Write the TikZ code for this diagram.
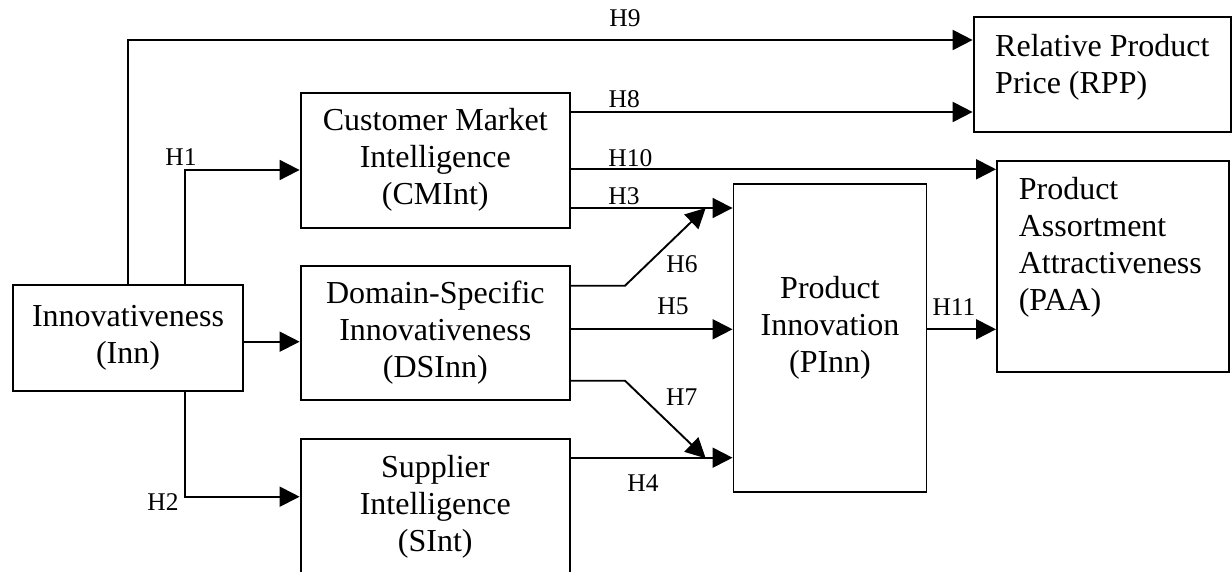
\documentclass[tikz,border=0pt]{standalone}
\usepackage{fontspec}
\setmainfont{Liberation Serif}
\usetikzlibrary{arrows.meta}
\newcommand\boxfont{\fontsize{32}{37}\selectfont}
\newcommand\hypfont{\fontsize{25.5}{30}\selectfont}
\begin{document}
\begin{tikzpicture}[x=1pt,y=-1pt,
  box/.style={draw, line width=1.9pt, inner sep=0pt, font=\boxfont, align=center},
  txt/.style={font=\boxfont, inner sep=0pt},
  hyp/.style={line width=1.9pt, -{Triangle[length=20pt,width=20pt]}},
  hlabel/.style={font=\hypfont, inner sep=0pt}]
\useasboundingbox (0,0) rectangle (1232,572);
\clip (0,0) rectangle (1232,572);

% constructs
\node[box, minimum width=230.5pt, minimum height=106pt] (inn) at (128,338) {Innovativeness\\(Inn)};
\node[box, minimum width=269.5pt, minimum height=135.3pt] (cmint) at (435.3,160.3) {Customer Market\\Intelligence\\(CMInt)};
\node[box, minimum width=269.5pt, minimum height=134.3pt] (dsinn) at (435.3,332.8) {Domain-Specific\\Innovativeness\\(DSInn)};
\node[box, minimum width=269.5pt, minimum height=136pt] (sint) at (435.3,507) {Supplier\\Intelligence\\(SInt)};
\node[box, minimum width=193pt, minimum height=308pt] (pinn) at (830,338.3) {};
\node[txt, align=center] (pinntext) at (830,327.4) {Product\\Innovation\\(PInn)};
\node[box, minimum width=257.2pt, minimum height=115.3pt] (rpp) at (1102.2,74.35) {};
\node[txt, align=left, anchor=west] (rpptext) at (995,67.5) {Relative Product\\Price (RPP)};
\node[box, minimum width=231.6pt, minimum height=211pt] (paa) at (1112.8,266.8) {};
\node[txt, align=left, anchor=west] (paatext) at (1018.6,247.5) {Product\\Assortment\\Attractiveness\\(PAA)};

% connector levels and bends
\coordinate (yh9) at (0,40);
\coordinate (yh8) at (0,112);
\coordinate (yh1) at (0,170);
\coordinate (yh10) at (0,169.3);
\coordinate (yh3) at (0,208);
\coordinate (yh6) at (0,285.7);
\coordinate (yh5) at (0,329.3);
\coordinate (ydi) at (0,341.7);
\coordinate (yh7) at (0,380.7);
\coordinate (yh4) at (0,457.7);
\coordinate (yh2) at (0,496.7);
\coordinate (xbr) at (185.4,0);
\coordinate (kh6) at (625,285.7);
\coordinate (th6) at (705.7,208);
\coordinate (kh7) at (625,380.7);
\coordinate (th7) at (705.7,458.3);

% hypothesised paths
\draw[hyp] (inn.north) |- (rpp.west |- yh9);
\draw[hyp] (inn.north -| xbr) |- (cmint.west |- yh1);
\draw[hyp] (inn.south -| xbr) |- (sint.west |- yh2);
\draw[hyp] (inn.east |- ydi) -- (dsinn.west |- ydi);
\draw[hyp] (cmint.east |- yh8) -- (rpp.west |- yh8);
\draw[hyp] (cmint.east |- yh10) -- (paa.west |- yh10);
\draw[hyp] (cmint.east |- yh3) -- (pinn.west |- yh3);
\draw[hyp] (dsinn.east |- yh6) -- (kh6) -- (th6);
\draw[hyp] (dsinn.east |- yh5) -- (pinn.west |- yh5);
\draw[hyp] (dsinn.east |- yh7) -- (kh7) -- (th7);
\draw[hyp] (sint.east |- yh4) -- (pinn.west |- yh4);
\draw[hyp] (pinn.east |- yh5) -- (paa.west |- yh5);

% hypothesis labels
\node[hlabel] (lh9) at (625,18.3) {H9};
\node[hlabel] (lh8) at (624.3,99.3) {H8};
\node[hlabel] (lh10) at (630.3,158) {H10};
\node[hlabel] (lh3) at (624,196) {H3};
\node[hlabel] (lh1) at (181,157.5) {H1};
\node[hlabel] (lh6) at (682,263.7) {H6};
\node[hlabel] (lh5) at (673,306.7) {H5};
\node[hlabel] (lh7) at (681.7,397.3) {H7};
\node[hlabel] (lh4) at (643,483.3) {H4};
\node[hlabel] (lh2) at (163,502.3) {H2};
\node[hlabel] (lh11) at (954,306.7) {H11};
\end{tikzpicture}
\end{document}
